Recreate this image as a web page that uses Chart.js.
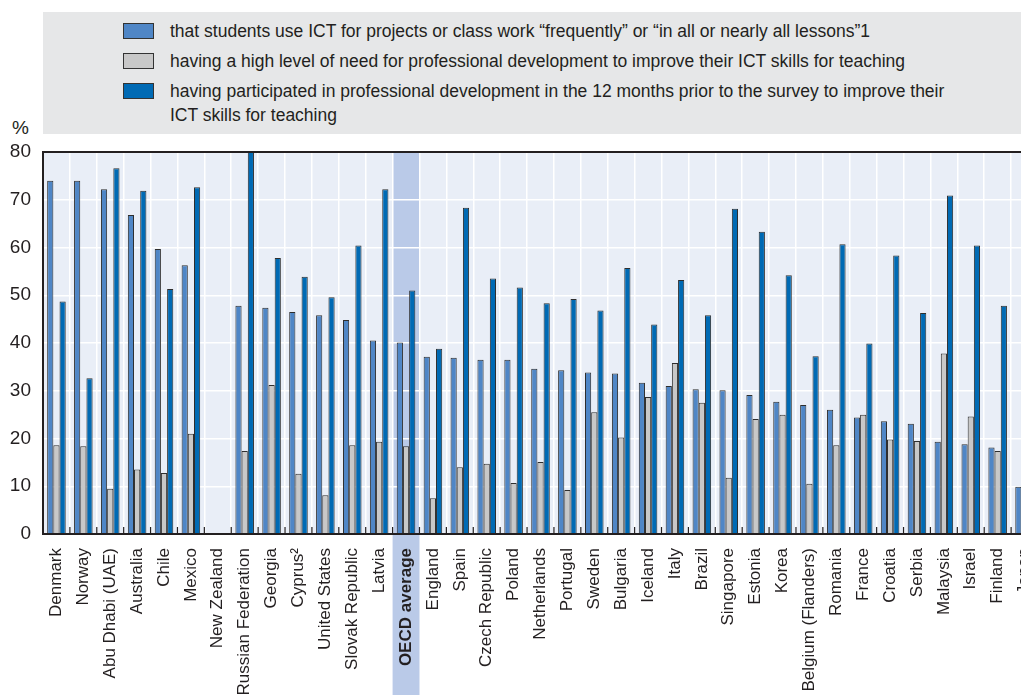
<!DOCTYPE html>
<html>
<head>
<meta charset="utf-8">
<script src="https://cdn.jsdelivr.net/npm/chart.js@4.4.1/dist/chart.umd.min.js"></script>
<style>
  html, body { margin: 0; padding: 0; overflow: hidden; background: #fff; width: 1021px; height: 695px; }
  body { position: relative; font-family: "Liberation Sans", Arial, sans-serif; color: #231F20; }
  #legend { position: absolute; left: 43px; top: 12px; width: 1000px; height: 122px; background: #E6E7E8; }
  .row { position: absolute; left: 80px; display: flex; align-items: flex-start; }
  .sw { width: 29px; height: 14px; border: 1.5px solid #333; margin-top: 3.5px; }
  .txt { margin-left: 16px; line-height: 24px; font-size: 17.5px; white-space: nowrap; }
  #pct { position: absolute; left: 12px; top: 117px; font-size: 19px; }
  #wrap { position: absolute; left: 0; top: 0; width: 1038px; height: 695px; }
</style>
</head>
<body>
<div id="legend"></div>
<div id="pct">%</div>
<div id="wrap"><canvas id="grafico" width="1038" height="695"></canvas></div>
<script>
const paises = ["Denmark", "Norway", "Abu Dhabi (UAE)", "Australia", "Chile", "Mexico", "New Zealand",
  "Russian Federation", "Georgia", "Cyprus²", "United States", "Slovak Republic", "Latvia", "OECD average",
  "England", "Spain", "Czech Republic", "Poland", "Netherlands", "Portugal", "Sweden", "Bulgaria", "Iceland",
  "Italy", "Brazil", "Singapore", "Estonia", "Korea", "Belgium (Flanders)", "Romania", "France", "Croatia",
  "Serbia", "Malaysia", "Israel", "Finland", "Japan"];

const usoAlumnos = [74.0, 74.0, 72.2, 66.8, 59.7, 56.3, null, 47.8, 47.4, 46.5, 45.8, 44.8, 40.5, 40.1,
  37.1, 36.9, 36.5, 36.5, 34.6, 34.3, 33.8, 33.6, 31.7, 31.0, 30.3, 30.1, 29.1, 27.7, 27.0, 26.0, 24.4,
  23.6, 23.1, 19.3, 18.8, 18.1, 9.9];
const necesidadAlta = [18.6, 18.4, 9.5, 13.5, 12.8, 21.0, null, 17.4, 31.2, 12.6, 8.1, 18.6, 19.3, 18.4,
  7.5, 14.0, 14.7, 10.7, 15.1, 9.2, 25.5, 20.2, 28.7, 35.8, 27.5, 11.8, 24.1, 25.0, 10.5, 18.6, 25.0,
  19.8, 19.5, 37.8, 24.6, 17.4, 25.7];
const participaron = [48.7, 32.6, 76.6, 71.9, 51.3, 72.6, null, 80.0, 57.8, 53.9, 49.6, 60.4, 72.2, 51.0,
  38.8, 68.3, 53.5, 51.6, 48.3, 49.2, 46.8, 55.7, 43.9, 53.2, 45.8, 68.1, 63.3, 54.2, 37.2, 60.7, 39.9,
  58.3, 46.3, 70.9, 60.4, 47.8, null];

const leyendas = [
  "that students use ICT for projects or class work \u201cfrequently\u201d or \u201cin all or nearly all lessons\u201d1",
  "having a high level of need for professional development to improve their ICT skills for teaching",
  "having participated in professional development in the 12 months prior to the survey to improve their<br>ICT skills for teaching"
];
const colores = ["#4F86C6", "#C8C8C8", "#006AB4"];
const yTicks = [0, 10, 20, 30, 40, 50, 60, 70, 80];

const promedio = paises.indexOf("OECD average");
const tinta = "#231F20";

// leyenda en html
const legend = document.getElementById("legend");
leyendas.forEach((t, i) => {
  const row = document.createElement("div");
  row.className = "row";
  row.style.top = (7 + i * 30) + "px";
  row.innerHTML = '<div class="sw" style="background:' + colores[i] + '"></div><div class="txt">' + t + '</div>';
  legend.appendChild(row);
});

const marco = {
  id: "marco",
  beforeDraw(chart) {
    const { ctx, chartArea: a, scales: { x } } = chart;
    const half = (x.getPixelForValue(1) - x.getPixelForValue(0)) / 2;
    ctx.save();
    ctx.fillStyle = "#E9EEF7";
    ctx.fillRect(a.left, a.top, a.right - a.left, a.bottom - a.top);
    const cx = x.getPixelForValue(promedio);
    ctx.fillStyle = "#BACAE8";
    ctx.fillRect(cx - half, a.top, half * 2, chart.height - a.top);
    ctx.restore();
  },
  afterDatasetsDraw(chart) {
    const { ctx, chartArea: a, scales: { x } } = chart;
    const half = (x.getPixelForValue(1) - x.getPixelForValue(0)) / 2;
    ctx.save();
    ctx.strokeStyle = tinta;
    ctx.lineWidth = 1.2;
    for (let i = 0; i <= paises.length; i++) {
      const px = x.getPixelForValue(i) - half;
      ctx.beginPath();
      ctx.moveTo(px, a.bottom);
      ctx.lineTo(px, a.bottom - 7);
      ctx.stroke();
    }
    ctx.lineWidth = 2;
    ctx.beginPath();
    ctx.moveTo(a.right, a.top);
    ctx.lineTo(a.left, a.top);
    ctx.lineTo(a.left, a.bottom);
    ctx.lineTo(a.right, a.bottom);
    ctx.stroke();
    ctx.restore();
  }
};

Chart.defaults.font.family = '"Liberation Sans", Arial, sans-serif';
Chart.defaults.font.size = 17;
Chart.defaults.color = tinta;

const series = [usoAlumnos, necesidadAlta, participaron];
const ctx = document.getElementById("grafico").getContext("2d");
new Chart(ctx, {
  type: "bar",
  data: {
    labels: paises,
    datasets: series.map((d, i) => ({
      label: "s" + i,
      data: d,
      backgroundColor: colores[i],
      borderColor: "#2E2E2E",
      borderWidth: 1,
      categoryPercentage: 0.69,
      barPercentage: 1.0
    }))
  },
  options: {
    responsive: false,
    animation: false,
    layout: { padding: { top: 152, right: 0, left: 0, bottom: 0 } },
    plugins: { legend: { display: false }, tooltip: { enabled: false } },
    scales: {
      x: {
        afterFit: s => { s.height = 161; s.paddingLeft = 0; s.paddingRight = 0; },
        grid: { color: "#FFFFFF", lineWidth: 1.5, drawTicks: false },
        border: { display: false },
        ticks: {
          autoSkip: false, maxRotation: 90, minRotation: 90, padding: 14,
          font: c => (c.index === promedio ? { weight: "bold" } : {})
        }
      },
      y: {
        min: 0, max: 80,
        afterFit: s => { s.width = 43; s.paddingTop = 0; s.paddingBottom = 0; },
        afterBuildTicks: s => { s.ticks = yTicks.map(v => ({ value: v })); },
        grid: { color: "#FFFFFF", lineWidth: 1.5, drawTicks: false },
        border: { display: false },
        ticks: { padding: 12, font: { size: 19 } }
      }
    }
  },
  plugins: [marco]
});
</script>
</body>
</html>
